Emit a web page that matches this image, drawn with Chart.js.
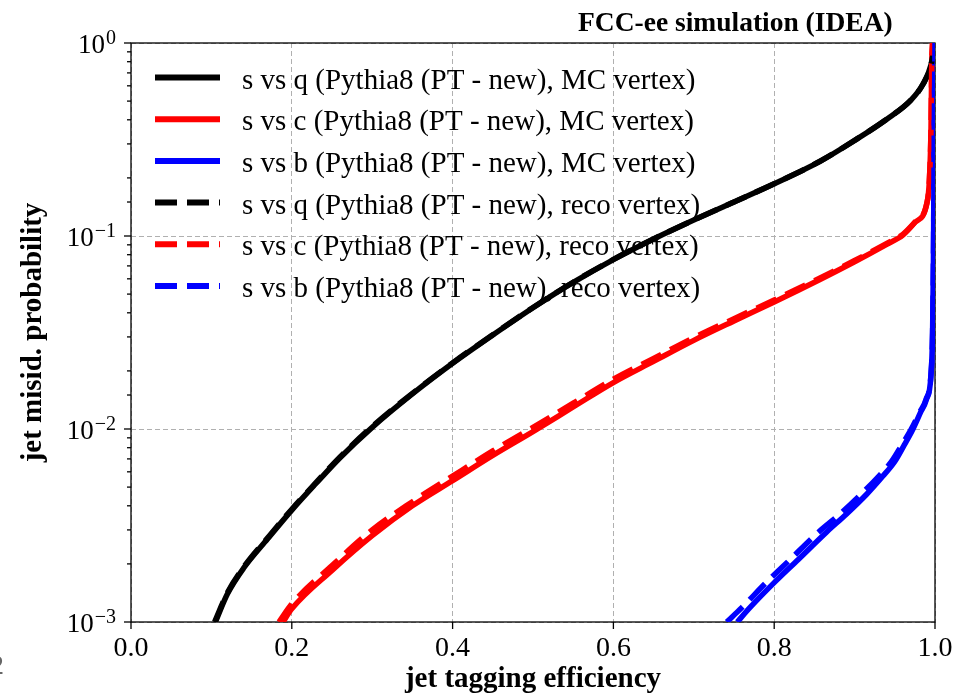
<!DOCTYPE html>
<html>
<head>
<meta charset="utf-8">
<script src="https://cdn.jsdelivr.net/npm/chart.js@4.4.1/dist/chart.umd.min.js"></script>
<style>
  html, body { margin: 0; padding: 0; background: #fff; }
  #wrap { position: relative; width: 975px; height: 697px; }
</style>
</head>
<body>
<div id="wrap"><canvas id="roc" width="975" height="697"></canvas></div>
<script>
// s vs q
const effQMc  = [0.105, 0.12, 0.14, 0.17, 0.2, 0.23, 0.26, 0.3, 0.35, 0.4, 0.45, 0.5, 0.55, 0.6, 0.65, 0.7, 0.75, 0.8, 0.857, 0.9, 0.94, 0.97, 0.985, 0.995, 1.0];
const misQMc  = [0.001, 0.0014, 0.0019, 0.0027, 0.0038, 0.00522, 0.0071, 0.0102, 0.0152, 0.0219, 0.0307, 0.0425, 0.0575, 0.0755, 0.0965, 0.121, 0.150, 0.1865, 0.2438, 0.3126, 0.4027, 0.5058, 0.611, 0.769, 1.0];
const effQReco = [0.104, 0.12, 0.14, 0.17, 0.2, 0.23, 0.26, 0.3, 0.35, 0.4, 0.45, 0.5, 0.55, 0.6, 0.65, 0.7, 0.75, 0.8, 0.857, 0.9, 0.94, 0.97, 0.985, 0.995, 1.0];
const misQReco = [0.001, 0.00142, 0.00192, 0.00273, 0.00384, 0.00527, 0.00716, 0.0103, 0.0153, 0.0220, 0.0308, 0.0426, 0.0576, 0.0756, 0.0966, 0.1211, 0.1501, 0.1866, 0.2439, 0.3127, 0.4028, 0.5058, 0.611, 0.769, 1.0];

// s vs c
const effCMc  = [0.189, 0.2, 0.25, 0.3, 0.35, 0.4, 0.45, 0.5, 0.55, 0.6, 0.65, 0.7, 0.75, 0.8, 0.857, 0.9, 0.94, 0.96, 0.975, 0.99, 0.993, 0.995, 0.996, 0.997];
const misCMc  = [0.001, 0.00117, 0.00185, 0.0028, 0.0040, 0.0054, 0.0073, 0.0097, 0.0130, 0.0174, 0.0224, 0.0288, 0.0363, 0.0455, 0.0595, 0.0735, 0.0905, 0.101, 0.1175, 0.148, 0.195, 0.355, 0.79, 1.0];
const effCReco = [0.184, 0.2, 0.25, 0.3, 0.35, 0.4, 0.45, 0.5, 0.55, 0.6, 0.65, 0.7, 0.75, 0.8, 0.857, 0.9, 0.94, 0.96, 0.975, 0.99, 0.993, 0.995, 0.996, 0.997];
const misCReco = [0.001, 0.00124, 0.00196, 0.0030, 0.0042, 0.0057, 0.0077, 0.0102, 0.0136, 0.0181, 0.0232, 0.0297, 0.0373, 0.0466, 0.0606, 0.0746, 0.0915, 0.102, 0.118, 0.149, 0.195, 0.355, 0.79, 1.0];

// s vs b
const effBMc  = [0.754, 0.77, 0.8, 0.83, 0.865, 0.89, 0.915, 0.935, 0.95, 0.962, 0.972, 0.982, 0.989, 0.995, 0.997, 0.998, 0.999, 1.0];
const misBMc  = [0.001, 0.00119, 0.0016, 0.00211, 0.00292, 0.00363, 0.00459, 0.00569, 0.00679, 0.0083, 0.00989, 0.0122, 0.0141, 0.019, 0.0316, 0.0708, 0.316, 1.0];
const effBReco = [0.741, 0.76, 0.79, 0.82, 0.855, 0.882, 0.908, 0.93, 0.946, 0.959, 0.97, 0.981, 0.989, 0.995, 0.997, 0.998, 0.999, 1.0];
const misBReco = [0.001, 0.00119, 0.0016, 0.00211, 0.00292, 0.00363, 0.00459, 0.00569, 0.00679, 0.0083, 0.00989, 0.0122, 0.0143, 0.0192, 0.0316, 0.0708, 0.316, 1.0];

const seriesLabels = [
  's vs q (Pythia8 (PT - new), MC vertex)',
  's vs c (Pythia8 (PT - new), MC vertex)',
  's vs b (Pythia8 (PT - new), MC vertex)',
  's vs q (Pythia8 (PT - new), reco vertex)',
  's vs c (Pythia8 (PT - new), reco vertex)',
  's vs b (Pythia8 (PT - new), reco vertex)'
];
const xTickLabels = ['0.0', '0.2', '0.4', '0.6', '0.8', '1.0'];
const yTickExponents = ['0', '\u22121', '\u22122', '\u22123'];

const SERIF = '"Liberation Serif", "Times New Roman", serif';
const DASH = [22, 10];

const toPoints = (xs, ys) => xs.map((x, i) => ({ x: x, y: ys[i] }));

// later curves sit on top, like the plotting order of the original
function curve(label, xs, ys, color, dashed, order) {
  return {
    label: label,
    data: toPoints(xs, ys),
    borderColor: color,
    borderWidth: 5.5,
    borderDash: dashed ? DASH : [],
    borderCapStyle: 'butt',
    borderJoinStyle: 'round',
    cubicInterpolationMode: 'monotone',
    pointRadius: 0,
    fill: false,
    order: order
  };
}

const isPow10 = v => Math.abs(Math.log10(v) - Math.round(Math.log10(v))) < 1e-6;

// frame, ticks, labels, titles and the in-axes legend
const axisDecor = {
  id: 'axisDecor',
  beforeDatasetsDraw(chart) {
    const { ctx, chartArea: a } = chart;
    ctx.save();
    ctx.strokeStyle = '#000';
    ctx.lineWidth = 1.3;
    ctx.strokeRect(a.left, a.top, a.right - a.left, a.bottom - a.top);
    ctx.restore();
  },
  afterDraw(chart) {
    const { ctx, chartArea: a } = chart;
    const xs = chart.scales.x, ys = chart.scales.y;
    ctx.save();
    ctx.fillStyle = '#000';
    ctx.strokeStyle = '#000';
    ctx.lineWidth = 1.3;

    // x ticks
    ctx.font = '28px ' + SERIF;
    ctx.textAlign = 'center';
    ctx.textBaseline = 'alphabetic';
    xs.ticks.forEach((t, i) => {
      const px = xs.getPixelForValue(t.value);
      ctx.beginPath();
      ctx.moveTo(px, a.bottom);
      ctx.lineTo(px, a.bottom + 7);
      ctx.stroke();
      ctx.fillText(xTickLabels[i], px, a.bottom + 34);
    });

    // y ticks (log, major + minor)
    ys.ticks.forEach(t => {
      const py = ys.getPixelForValue(t.value);
      const major = isPow10(t.value);
      ctx.beginPath();
      ctx.moveTo(a.left, py);
      ctx.lineTo(a.left - (major ? 7 : 4), py);
      ctx.stroke();
    });
    let k = 0;
    ys.ticks.filter(t => isPow10(t.value)).sort((p, q) => q.value - p.value).forEach(t => {
      const py = ys.getPixelForValue(t.value);
      const exp = yTickExponents[k++];
      ctx.textAlign = 'left';
      ctx.font = '20px ' + SERIF;
      const ew = ctx.measureText(exp).width;
      const right = a.left - 15;
      ctx.fillText(exp, right - ew, py + 1);
      ctx.font = '27px ' + SERIF;
      const bw = ctx.measureText('10').width;
      ctx.fillText('10', right - ew - bw - 1, py + 10);
    });

    // titles
    ctx.font = 'bold 29px ' + SERIF;
    ctx.textAlign = 'center';
    ctx.fillText('jet tagging efficiency', (a.left + a.right) / 2, 687);
    ctx.save();
    ctx.translate(41, (a.top + a.bottom) / 2);
    ctx.rotate(-Math.PI / 2);
    ctx.fillText('jet misid. probability', 0, 0);
    ctx.restore();
    ctx.font = 'bold 27.5px ' + SERIF;
    ctx.textAlign = 'left';
    ctx.fillText('FCC-ee simulation (IDEA)', 578, 31);

    // legend, in dataset order
    ctx.font = '29px ' + SERIF;
    chart.data.datasets.forEach((ds, i) => {
      const cy = 77.5 + i * 41.7;
      ctx.save();
      ctx.strokeStyle = ds.borderColor;
      ctx.lineWidth = 6;
      ctx.lineCap = 'butt';
      ctx.setLineDash(ds.borderDash);
      ctx.beginPath();
      ctx.moveTo(155, cy);
      ctx.lineTo(220, cy);
      ctx.stroke();
      ctx.restore();
      ctx.fillText(ds.label, 242, cy + 11);
    });

    // clipped glyph at the lower left edge
    ctx.fillStyle = '#666';
    ctx.font = '28px ' + SERIF;
    ctx.fillText('2', -10, 674);
    ctx.restore();
  }
};

const ctx = document.getElementById('roc').getContext('2d');
new Chart(ctx, {
  type: 'line',
  data: {
    datasets: [
      curve(seriesLabels[0], effQMc, misQMc, '#000000', false, 5),
      curve(seriesLabels[1], effCMc, misCMc, '#ff0000', false, 4),
      curve(seriesLabels[2], effBMc, misBMc, '#0000ff', false, 3),
      curve(seriesLabels[3], effQReco, misQReco, '#000000', true, 2),
      curve(seriesLabels[4], effCReco, misCReco, '#ff0000', true, 1),
      curve(seriesLabels[5], effBReco, misBReco, '#0000ff', true, 0)
    ]
  },
  options: {
    responsive: false,
    animation: false,
    devicePixelRatio: 1,
    layout: { padding: { left: 131, right: 40, top: 43, bottom: 75 } },
    plugins: { legend: { display: false }, tooltip: { enabled: false } },
    scales: {
      x: {
        type: 'linear', min: 0, max: 1,
        ticks: { display: false, stepSize: 0.2 },
        grid: { color: '#b0b0b0', lineWidth: 1, drawTicks: false },
        border: { display: false, dash: [5, 3] }
      },
      y: {
        type: 'logarithmic', min: 0.001, max: 1,
        ticks: { display: false },
        grid: {
          color: c => (c.tick && isPow10(c.tick.value)) ? '#b0b0b0' : 'rgba(0,0,0,0)',
          lineWidth: 1, drawTicks: false
        },
        border: { display: false, dash: [5, 3] }
      }
    }
  },
  plugins: [axisDecor]
});
</script>
</body>
</html>
